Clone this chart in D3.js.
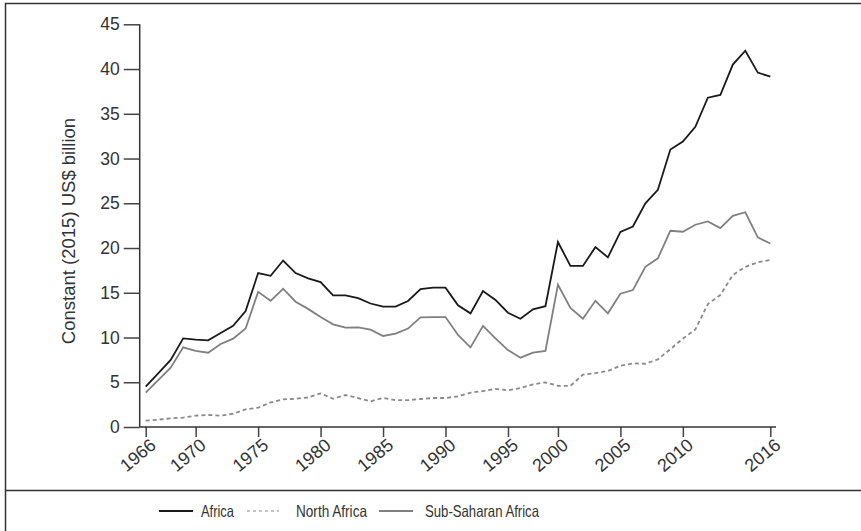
<!DOCTYPE html>
<html>
<head>
<meta charset="utf-8">
<script src="https://cdn.jsdelivr.net/npm/d3@7"></script>
<style>
  html, body { margin: 0; padding: 0; background: #fff; }
  svg { display: block; }
</style>
</head>
<body>
<svg id="chart" width="861" height="531"></svg>
<script>
// ---- data ----
const years = [1966,1967,1968,1969,1970,1971,1972,1973,1974,1975,1976,1977,1978,1979,1980,
  1981,1982,1983,1984,1985,1986,1987,1988,1989,1990,1991,1992,1993,1994,1995,1996,1997,1998,
  1999,2000,2001,2002,2003,2004,2005,2006,2007,2008,2009,2010,2011,2012,2013,2014,2015,2016];

const africa = [4.5, 6.0, 7.5, 9.9, 9.76, 9.68, 10.5, 11.3, 12.96, 17.2, 16.9, 18.6, 17.2, 16.6,
  16.2, 14.7, 14.7, 14.4, 13.8, 13.45, 13.45, 14.08, 15.4, 15.57, 15.57, 13.6, 12.7, 15.2, 14.2,
  12.77, 12.1, 13.15, 13.5, 20.67, 18.0, 18.0, 20.1, 18.96, 21.8, 22.4, 25.0, 26.5, 31.0, 31.9,
  33.55, 36.8, 37.1, 40.5, 42.05, 39.6, 39.15];

const northAfrica = [0.71, 0.82, 0.97, 1.04, 1.27, 1.34, 1.27, 1.48, 1.97, 2.16, 2.75, 3.09, 3.16,
  3.3, 3.76, 3.16, 3.57, 3.24, 2.87, 3.24, 3.0, 3.0, 3.13, 3.24, 3.24, 3.43, 3.83, 4.02, 4.25, 4.1,
  4.36, 4.77, 4.99, 4.6, 4.6, 5.85, 6.03, 6.26, 6.85, 7.11, 7.07, 7.56, 8.7, 9.87, 10.9, 13.74,
  14.75, 16.98, 17.9, 18.4, 18.66];

const subSaharan = [3.83, 5.25, 6.63, 8.9, 8.5, 8.3, 9.27, 9.87, 11.0, 15.1, 14.1, 15.45, 14.0,
  13.2, 12.3, 11.47, 11.1, 11.14, 10.87, 10.17, 10.43, 11.0, 12.25, 12.28, 12.28, 10.28, 8.9, 11.3,
  9.9, 8.6, 7.75, 8.3, 8.5, 15.9, 13.3, 12.1, 14.1, 12.7, 14.9, 15.3, 17.9, 18.85, 21.93, 21.82,
  22.6, 22.98, 22.23, 23.6, 24.0, 21.2, 20.5];

// x tick labels as printed, and the category each one sits on in the source figure
const xTickLabels = ['1966','1970','1975','1980','1985','1990','1995','2000','2005','2010','2016'];
const xTickAt     = [1966, 1970, 1975, 1980, 1985, 1990, 1995, 1999, 2004, 2009, 2016];

const yTicks = [0,5,10,15,20,25,30,35,40,45];

const seriesNames = ['Africa', 'North Africa', 'Sub-Saharan Africa'];

// ---- drawing ----
const svg = d3.select('#chart');
const FONT = "'Liberation Sans', Arial, sans-serif";

// frame
svg.append('rect').attr('x', 5.5).attr('y', 3.5).attr('width', 870).attr('height', 540)
  .attr('fill', 'none').attr('stroke', '#333').attr('stroke-width', 1.5);
svg.append('line').attr('x1', 5.5).attr('x2', 861).attr('y1', 490.5).attr('y2', 490.5)
  .attr('stroke', '#333').attr('stroke-width', 1.5);

const x = d3.scalePoint().domain(years).range([145.7, 770.3]);
const y = d3.scaleLinear().domain([0, 45]).range([427, 24.3]);

const axisX0 = 139.7;

// y axis
const gy = svg.append('g').attr('transform', `translate(${axisX0},0)`)
  .call(d3.axisLeft(y).tickValues(yTicks).tickSize(16).tickPadding(4).tickFormat(d3.format('d')));
gy.select('.domain').remove();
gy.append('line').attr('x1', 0).attr('x2', 0).attr('y1', y(45)).attr('y2', y(0))
  .attr('stroke', '#333').attr('stroke-width', 1.5);
gy.selectAll('.tick line').attr('stroke', '#444').attr('stroke-width', 1.5);
gy.selectAll('.tick text').attr('fill', '#333').style('font-family', FONT).style('font-size', '17.5px');

// x axis
const gx = svg.append('g').attr('transform', `translate(0,${y(0)})`)
  .call(d3.axisBottom(x).tickValues(xTickAt).tickSize(10)
        .tickFormat((d) => xTickLabels[xTickAt.indexOf(d)]));
gx.select('.domain').remove();
gx.append('line').attr('x1', axisX0).attr('x2', 776).attr('y1', 0).attr('y2', 0)
  .attr('stroke', '#333').attr('stroke-width', 1.5);
gx.selectAll('.tick line').attr('stroke', '#444').attr('stroke-width', 1.5);
gx.selectAll('.tick text')
  .attr('fill', '#333')
  .style('font-family', FONT).style('font-size', '18px')
  .attr('text-anchor', 'end')
  .attr('y', 0).attr('dy', 0)
  .attr('transform', 'translate(11,20) rotate(-40)');

// y axis title
svg.append('text')
  .attr('transform', `translate(75,${231}) rotate(-90)`)
  .attr('text-anchor', 'middle')
  .attr('fill', '#333')
  .style('font-family', FONT).style('font-size', '18.5px')
  .text('Constant (2015) US$ billion');

// lines
const line = d3.line().x((d, i) => x(years[i])).y((d) => y(d));
const styles = [
  { data: africa, stroke: '#1a1a1a', dash: null },
  { data: northAfrica, stroke: '#8a8a8a', dash: '4,3' },
  { data: subSaharan, stroke: '#808080', dash: null }
];
// draw order: dashed, grey, black on top
[1, 2, 0].forEach((k) => {
  const s = styles[k];
  svg.append('path').datum(s.data)
    .attr('d', line)
    .attr('fill', 'none')
    .attr('stroke', s.stroke)
    .attr('stroke-width', 1.8)
    .attr('stroke-linejoin', 'miter')
    .attr('stroke-dasharray', s.dash);
});

// legend (condensed text)
const legendItems = [
  { name: seriesNames[0], x0: 159, x1: 193, tx: 201, w: 33, s: styles[0] },
  { name: seriesNames[1], x0: 247, x1: 279, tx: 296, w: 71, s: styles[1] },
  { name: seriesNames[2], x0: 379, x1: 413, tx: 425, w: 114, s: styles[2] }
];
const lg = svg.append('g');
legendItems.forEach((it) => {
  lg.append('line').attr('x1', it.x0).attr('x2', it.x1).attr('y1', 511).attr('y2', 511)
    .attr('stroke', it.s.stroke).attr('stroke-width', it.s.dash ? 1.2 : 2)
    .attr('stroke-dasharray', it.s.dash ? '3,3' : null);
  lg.append('text').attr('x', it.tx).attr('y', 511).attr('dy', '0.36em')
    .attr('fill', '#333')
    .attr('textLength', it.w).attr('lengthAdjust', 'spacingAndGlyphs')
    .style('font-family', FONT).style('font-size', '16.5px')
    .text(it.name);
});
</script>
</body>
</html>
